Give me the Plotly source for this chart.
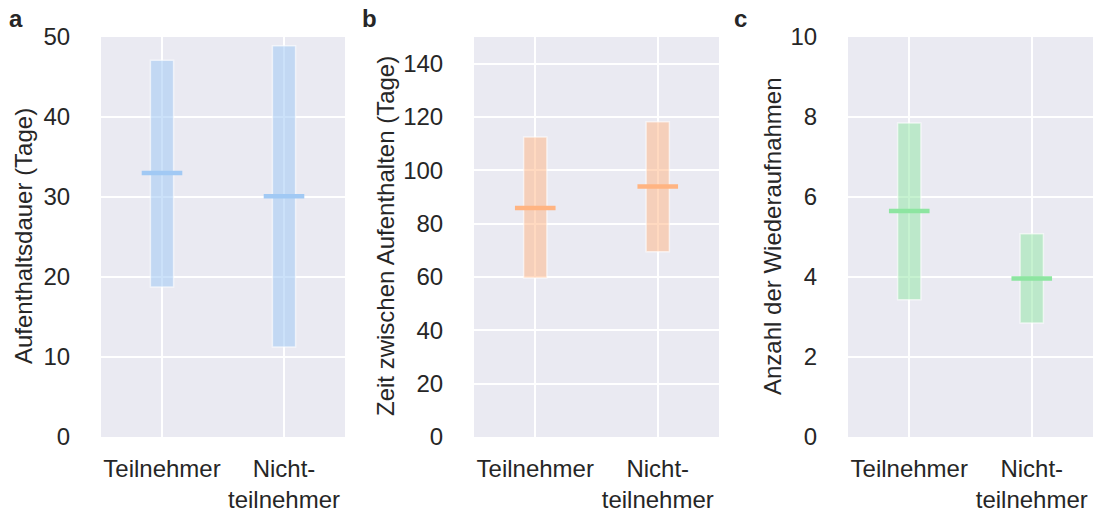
import plotly.graph_objects as go

categories = ["Teilnehmer", "Nicht-<br>teilnehmer"]

a_low = [18.75, 11.25]
a_high = [47.1, 48.9]
a_median = [33.0, 30.1]

b_low = [59.6, 69.5]
b_high = [112.5, 118.2]
b_median = [85.9, 93.9]

c_low = [3.43, 2.85]
c_high = [7.85, 5.08]
c_median = [5.65, 3.96]

y_titles = ["Aufenthaltsdauer (Tage)", "Zeit zwischen Aufenthalten (Tage)", "Anzahl der Wiederaufnahmen"]
panel_letters = ["a", "b", "c"]
y_ranges = [[0, 50], [0, 150], [0, 10]]
y_dticks = [10, 20, 2]

colors = ["#a1c9f4", "#ffb482", "#8de5a1"]
fills = ["rgba(161,201,244,0.55)", "rgba(255,180,130,0.5)", "rgba(141,229,161,0.5)"]

W, H = 1094, 509
x_domains = [[101, 345], [474, 719], [848, 1093]]
y_top, y_bot = 37, 437
title_x = [23, 385, 772]
letter_x = [16, 369, 741]

FONT = "Liberation Sans, Arial, sans-serif"
TXT = "#262626"
FS = 24

fig = go.Figure()
panels = [(a_low, a_high, a_median), (b_low, b_high, b_median), (c_low, c_high, c_median)]
xpos = list(range(len(categories)))

for i, (lo, hi, med) in enumerate(panels):
    xa = "x" if i == 0 else f"x{i+1}"
    ya = "y" if i == 0 else f"y{i+1}"
    fig.add_trace(go.Bar(
        x=xpos, y=[h - l for h, l in zip(hi, lo)], base=lo, width=0.19,
        marker=dict(color=fills[i], line=dict(color="rgba(255,255,255,0.6)", width=1.5)),
        xaxis=xa, yaxis=ya, showlegend=False, hoverinfo="skip"))
    fig.add_trace(go.Scatter(
        x=xpos, y=med, mode="markers",
        marker=dict(symbol="line-ew", size=29, line=dict(color=colors[i], width=4.5)),
        xaxis=xa, yaxis=ya, showlegend=False, hoverinfo="skip"))

    xkey = "xaxis" if i == 0 else f"xaxis{i+1}"
    ykey = "yaxis" if i == 0 else f"yaxis{i+1}"
    fig.update_layout(**{
        xkey: dict(domain=[x_domains[i][0] / W, x_domains[i][1] / W], anchor=ya,
                   range=[-0.5, 1.5], tickvals=xpos, ticktext=categories,
                   showgrid=True, gridcolor="white", gridwidth=1.5, zeroline=False,
                   ticks="outside", ticklen=10, tickcolor="rgba(0,0,0,0)", automargin=False,
                   tickfont=dict(family=FONT, size=FS, color=TXT), fixedrange=True),
        ykey: dict(domain=[1 - y_bot / H, 1 - y_top / H], anchor=xa,
                   range=y_ranges[i], dtick=y_dticks[i], tick0=0,
                   showgrid=True, gridcolor="white", gridwidth=1.5, zeroline=False,
                   ticks="outside", ticklen=25, tickcolor="rgba(0,0,0,0)", automargin=False,
                   tickfont=dict(family=FONT, size=FS, color=TXT), fixedrange=True),
    })
    fig.add_annotation(text=y_titles[i], xref="paper", yref="paper",
                       x=title_x[i] / W, y=1 - 236 / H, textangle=-90,
                       showarrow=False, xanchor="center", yanchor="middle",
                       font=dict(family=FONT, size=FS, color=TXT))
    fig.add_annotation(text=f"<b>{panel_letters[i]}</b>", xref="paper", yref="paper",
                       x=letter_x[i] / W, y=1 - 19 / H, showarrow=False,
                       xanchor="center", yanchor="middle",
                       font=dict(family=FONT, size=FS, color=TXT))

fig.update_layout(width=W, height=H, margin=dict(l=0, r=0, t=0, b=0),
                  paper_bgcolor="white", plot_bgcolor="#eaeaf2", barmode="overlay")

fig.write_html("out.html", config={"displayModeBar": False},
               post_script="document.body.style.margin='0';document.body.style.overflow='hidden';")
